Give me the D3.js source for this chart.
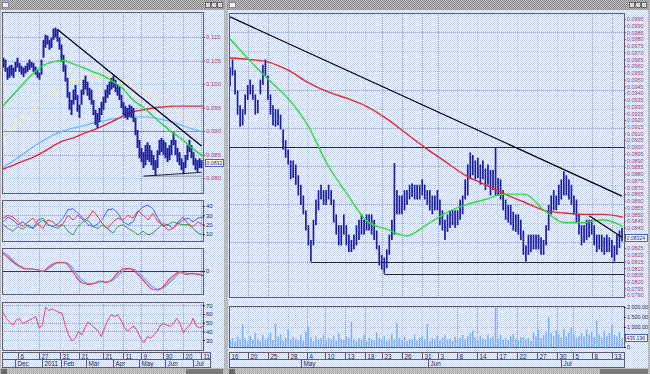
<!DOCTYPE html>
<html>
<head>
<meta charset="utf-8">
<script src="https://cdn.jsdelivr.net/npm/d3@7"></script>
<style>
  body { margin: 0; background: #bdbdbd; overflow: hidden; }
  svg { display: block; }
  text { font-family: 'Liberation Sans', Arial, sans-serif; }
  .grid { stroke: #9db2de; stroke-width: 1; stroke-dasharray: 1 1; }
</style>
</head>
<body>
<svg id="chart" width="650" height="374"></svg>
<script>
// ---------- left window: daily bars ----------
var leftHigh = [.1056,.1052,.1035,.1039,.1041,.1035,.1047,.1056,.1045,.1039,
  .1035,.1039,.1045,.1052,.1047,.1045,.1037,.1030,.1024,.1052,
  .1094,.1105,.1103,.1094,.1099,.1118,.1120,.1116,.1099,.1084,
  .1062,.1041,.1013,.0983,.0966,.0988,.0998,.0977,.0956,.0988,
  .1009,.1018,.1005,.0992,.0988,.0966,.0945,.0938,.0949,.0962,
  .0973,.0988,.0998,.1005,.1013,.1018,.1009,.1000,.0994,.0977,
  .0962,.0953,.0949,.0956,.0953,.0949,.0928,.0902,.0881,.0864,
  .0855,.0870,.0876,.0870,.0859,.0849,.0838,.0859,.0881,.0885,
  .0881,.0876,.0864,.0870,.0881,.0898,.0881,.0864,.0855,.0842,
  .0834,.0849,.0870,.0881,.0870,.0855,.0842,.0838,.0842,.0838];
var leftLow = [.1035,.1026,.1009,.1013,.1018,.1013,.1026,.1035,.1026,.1020,
  .1015,.1022,.1026,.1030,.1035,.1026,.1020,.1013,.1009,.1020,
  .1056,.1077,.1084,.1073,.1077,.1094,.1099,.1090,.1073,.1047,
  .1026,.1005,.0971,.0945,.0934,.0956,.0966,.0941,.0928,.0956,
  .0977,.0988,.0975,.0966,.0956,.0934,.0913,.0906,.0919,.0934,
  .0945,.0960,.0970,.0977,.0988,.0992,.0983,.0975,.0966,.0949,
  .0934,.0928,.0924,.0930,.0928,.0919,.0891,.0864,.0842,.0834,
  .0821,.0827,.0838,.0834,.0827,.0817,.0804,.0821,.0849,.0855,
  .0849,.0842,.0834,.0838,.0849,.0870,.0849,.0834,.0827,.0817,
  .0808,.0821,.0838,.0855,.0842,.0827,.0817,.0812,.0821,.0821];
var leftGreenMA = [.0953,.0977,.1000,.1022,.1039,.1047,.1050,.1043,.1035,.1026,.1018,.1005,.0990,.0966,.0951,.0932,.0913,.0896,.0881,.0862,.0847];
var leftYellowMA = [.0881,.0906,.0928,.0945,.0964,.0983,.0996,.1005,.1011,.1015,.1018,.1013,.1007,.0996,.0985,.0975,.0964,.0949,.0934,.0921,.0904];
var leftBlueMA = [.0823,.0836,.0851,.0866,.0879,.0891,.0900,.0906,.0911,.0917,.0921,.0926,.0928,.0930,.0930,.0928,.0924,.0919,.0911,.0904,.0898];
var leftRedMA = [.0819,.0827,.0836,.0844,.0855,.0868,.0879,.0885,.0894,.0902,.0911,.0921,.0932,.0941,.0945,.0949,.0951,.0953,.0953,.0953,.0953];
var leftTrend = [[27, 0.1116], [99, 0.0868]];
var leftSupport = [[70, 0.0804], [99, 0.0812]];
var leftFloor = [[70, 0.0804], [99, 0.0804]];
var leftPriceTicks = [0.080, 0.085, 0.090, 0.095, 0.100, 0.105, 0.110];
var leftLast = '0.0832';

var dmiBlue = [23,28,25,20,23,18,16,21,25,20,18,21,27,36,37,32,27,20,18,21,27,36,37,32,23,20,23,34,39,41,37,27,18,20,16,21,25,27,23,27,28];
var dmiRed = [27,30,28,23,18,23,27,20,16,25,23,18,21,30,25,30,25,27,35,28,20,16,23,27,25,30,27,35,30,25,32,23,20,14,16,23,28,21,18,23,20];
var dmiGreen = [20,16,13,18,15,20,16,25,27,20,18,16,20,13,9,18,23,25,18,16,20,15,11,18,20,16,13,9,13,9,11,16,21,20,23,21,20,20,16,11,9];
var dmiTicks = [10, 20, 30, 40];

var macdRed = [1.77,1.27,0.77,0.43,0.2,0.2,0.1,-0.07,0.43,0.77,0.87,0.77,0.1,-0.73,-1.23,-1.33,-1.23,-1.0,-1.13,-0.9,-0.23,0.2,0.27,0,-0.57,-1.23,-1.8,-1.9,-1.57,-0.9,-0.4,-0.07,-0.33,-0.23,-0.33,-0.47];
var macdBlue = [1.9,1.5,0.9,0.5,0.25,0.2,0.15,0,0.25,0.65,0.85,0.85,0.4,-0.4,-1.0,-1.25,-1.25,-1.1,-1.1,-1.0,-0.5,0,0.2,0.15,-0.3,-0.9,-1.5,-1.8,-1.7,-1.2,-0.7,-0.2,-0.2,-0.3,-0.25,-0.35];
var macdTicks = [0];

var rsiLine = [62,55,51,47,53,55,49,51,53,55,57,44,47,68,64,66,64,62,61,47,36,29,32,40,36,44,51,47,44,40,34,44,53,59,57,59,53,45,40,44,46,40,32,27,34,32,36,40,47,49,47,46,49,55,49,38,44,47,55,46,44,46];
var rsiTicks = [30, 40, 50, 60, 70];

var leftDayTicks = [7, 17.5, 28, 37.5, 49.5, 59.5, 68.5, 79.5, 89.5, 98.5];
var leftDayLabels = ['6', '27', '31', '21', '21', '11', '9', '30', '20', '11'];
var leftMonthTicks = [5.5, 19, 28.5, 41, 54.5, 68, 80.5, 94.5];
var leftMonthLabels = ['Dec', '2011', 'Feb', 'Mar', 'Apr', 'May', 'Jun', 'Jul'];

// ---------- right window: intraday bars ----------
var rightHigh = [.0959,.0965,.0957,.0942,.0931,.0928,.0939,.0946,.0950,.0946,
  .0939,.0935,.0950,.0961,.0965,.0953,.0939,.0931,.0928,.0928,
  .0924,.0913,.0905,.0898,.0890,.0890,.0887,.0879,.0872,.0864,
  .0853,.0842,.0831,.0846,.0861,.0868,.0872,.0868,.0868,.0872,
  .0868,.0861,.0850,.0842,.0842,.0850,.0842,.0835,.0831,.0835,
  .0842,.0846,.0850,.0846,.0850,.0850,.0850,.0846,.0838,.0827,
  .0820,.0818,.0824,.0835,.0846,.0888,.0868,.0864,.0864,.0868,
  .0868,.0872,.0873,.0872,.0872,.0872,.0876,.0872,.0868,.0868,
  .0864,.0864,.0868,.0861,.0853,.0846,.0850,.0853,.0853,.0853,
  .0853,.0861,.0864,.0876,.0887,.0896,.0894,.0890,.0892,.0887,
  .0890,.0884,.0887,.0883,.0883,.0900,.0877,.0876,.0868,.0861,
  .0857,.0857,.0852,.0850,.0850,.0846,.0838,.0827,.0835,.0835,
  .0835,.0835,.0835,.0833,.0831,.0842,.0857,.0864,.0868,.0864,
  .0872,.0876,.0882,.0879,.0876,.0872,.0864,.0861,.0850,.0842,
  .0842,.0846,.0846,.0846,.0842,.0835,.0835,.0835,.0833,.0835,
  .0833,.0831,.0827,.0835,.0838,.0840];
var rightLow = [.0945,.0953,.0939,.0924,.0915,.0916,.0924,.0935,.0939,.0935,
  .0924,.0925,.0939,.0946,.0953,.0935,.0924,.0916,.0915,.0916,
  .0913,.0898,.0892,.0887,.0876,.0877,.0872,.0864,.0857,.0850,
  .0838,.0827,.0815,.0827,.0842,.0853,.0861,.0857,.0857,.0861,
  .0857,.0844,.0835,.0827,.0827,.0835,.0827,.0822,.0822,.0824,
  .0827,.0831,.0835,.0835,.0838,.0838,.0835,.0831,.0824,.0812,
  .0809,.0806,.0810,.0820,.0831,.0835,.0850,.0850,.0850,.0853,
  .0857,.0861,.0863,.0861,.0861,.0861,.0864,.0861,.0857,.0853,
  .0850,.0853,.0853,.0842,.0838,.0831,.0837,.0840,.0842,.0840,
  .0842,.0846,.0850,.0861,.0864,.0876,.0879,.0876,.0877,.0872,
  .0876,.0868,.0872,.0864,.0868,.0864,.0864,.0861,.0853,.0846,
  .0844,.0842,.0838,.0837,.0835,.0831,.0820,.0815,.0820,.0822,
  .0824,.0824,.0824,.0820,.0820,.0827,.0838,.0850,.0853,.0853,
  .0857,.0861,.0864,.0864,.0861,.0857,.0850,.0844,.0835,.0827,
  .0829,.0831,.0833,.0835,.0827,.0822,.0824,.0822,.0820,.0822,
  .0822,.0818,.0815,.0820,.0825,.0830];
var rightRedMA = [.0966,.0965,.0963,.0957,.0948,.0941,.0936,.0930,.0921,.0910,.0899,.0889,.0879,.0872,.0865,.0859,.0853,.0851,.0850,.0850,.0848];
var rightGreenMA = [.0981,.0965,.0950,.0936,.0916,.0887,.0865,.0845,.0839,.0834,.0842,.0851,.0857,.0861,.0865,.0865,.0853,.0844,.0844,.0846,.0841];
var rightTrend = [[0, 0.09965], [155, 0.08636]];
var rightTrendShort = [[142, 0.0849], [155, 0.0833]];
var rightLevels = [[0, 155, 0.0900], [32, 155, 0.0815], [61, 155, 0.0806]];
// 0.0830 and 0.0835 sit under the last-price box, so they are not shown
var rightPriceTicks = [0.0790,0.0795,0.0800,0.0805,0.0810,0.0815,0.0820,0.0825,
  0.0840,0.0845,0.0850,0.0855,0.0860,0.0865,0.0870,0.0875,0.0880,0.0885,
  0.0890,0.0895,0.0900,0.0905,0.0910,0.0915,0.0920,0.0925,0.0930,0.0935,
  0.0940,0.0945,0.0950,0.0955,0.0960,0.0965,0.0970,0.0975,0.0980,0.0985,
  0.0990,0.0995];
var rightLast = '0.08324';

var volume = [320,450,280,520,380,1150,420,300,560,350,680,410,290,
  610,380,470,720,350,1180,520,640,300,450,880,390,510,
  420,350,600,330,760,1020,480,290,540,380,450,620,310,
  470,390,560,300,680,420,350,520,460,1280,380,290,430,
  360,610,280,470,400,330,720,450,380,560,300,420,640,
  380,1200,460,350,510,290,420,380,620,340,460,530,390,
  1150,300,440,380,560,320,470,600,350,420,300,510,380,
  460,620,390,540,700,820,480,350,560,420,380,610,450,
  530,1980,420,600,380,470,350,560,640,420,330,480,520,
  380,460,300,720,540,880,450,620,780,1480,700,560,820,
  640,480,900,560,700,1000,620,480,560,700,540,880,620,
  760,500,1300,620,480,820,560,700,1100,620,540,760,440];
var volumeTicks = [0, 1000, 1500, 2000];
var volumeLast = '436.196';

var rightDayTicks = [-0.3, 7.1, 15, 22.9, 30.4, 37.6, 45.5, 53.4, 60.1, 68, 75.9, 82.2, 89.7, 97.6, 105.5, 113.5, 121.4, 129.3, 135.6, 143.1, 151];
var rightDayLabels = ['16','20','25','28','4','10','13','18','23','26','31','3','8','14','17','22','27','30','5','8','13'];
var rightMonthTicks = [28.1, 78.3, 130.9];
var rightMonthLabels = ['May', 'Jun', 'Jul'];

// colours
var barBlue = '#1c209c', frameLine = '#5c5c72', priceLabel = '#a83c5a', darkText = '#26263a';

var svg = d3.select('#chart');
var defs = svg.append('defs');

// dithered fills, like the old 256 colour screen
function checker(id, a, b) {
  var p = defs.append('pattern').attr('id', id).attr('width', 2).attr('height', 2)
    .attr('patternUnits', 'userSpaceOnUse');
  p.append('rect').attr('width', 2).attr('height', 2).attr('fill', a);
  p.append('rect').attr('width', 1).attr('height', 1).attr('fill', b);
  p.append('rect').attr('x', 1).attr('y', 1).attr('width', 1).attr('height', 1).attr('fill', b);
}
checker('paper', '#ffffff', '#c6d1f0');
checker('frame', '#cdcdcd', '#a6a6a6');
checker('title', '#bcbcbc', '#8a8a8a');

svg.append('rect').attr('width', 650).attr('height', 374).attr('fill', 'url(#frame)');

// window chrome
[[0, 225], [227, 649]].forEach(function (w) {
  svg.append('rect').attr('x', w[0]).attr('y', 0).attr('width', w[1] - w[0]).attr('height', 10).attr('fill', 'url(#title)');
  svg.append('rect').attr('x', w[0] + 1).attr('y', 10).attr('width', w[1] - w[0] - 2).attr('height', 358).attr('fill', 'url(#paper)');
  svg.append('rect').attr('x', w[0] + 2.5).attr('y', 2.5).attr('width', 6).attr('height', 5)
    .attr('fill', '#f2f2f8').attr('stroke', '#7a6a90').attr('stroke-width', 0.7);
  [19, 13, 7].forEach(function (off) {
    svg.append('rect').attr('x', w[1] - off - 0.5).attr('y', 2.5).attr('width', 5).attr('height', 5)
      .attr('fill', '#d6d6d6').attr('stroke', '#3a3a3a').attr('stroke-width', 0.6);
  });
});
svg.append('rect').attr('x', 1).attr('y', 369).attr('width', 6).attr('height', 5).attr('fill', '#6a6a6a');
svg.append('rect').attr('x', 229).attr('y', 369).attr('width', 6).attr('height', 5).attr('fill', '#6a6a6a');
svg.append('rect').attr('x', 186).attr('y', 369).attr('width', 37).attr('height', 5).attr('fill', '#7a7a7a');
svg.append('rect').attr('x', 600).attr('y', 369).attr('width', 48).attr('height', 5).attr('fill', '#7a7a7a');

// panel with clip and border
var panelCount = 0;
function panel(x0, y0, x1, y1) {
  var id = 'clip' + (panelCount++);
  defs.append('clipPath').attr('id', id).append('rect')
    .attr('x', x0 + 1).attr('y', y0 + 1).attr('width', x1 - x0 - 1).attr('height', y1 - y0 - 1);
  var g = svg.append('g').attr('clip-path', 'url(#' + id + ')');
  svg.append('rect').attr('x', x0 + 0.5).attr('y', y0 + 0.5).attr('width', x1 - x0).attr('height', y1 - y0)
    .attr('fill', 'none').attr('stroke', frameLine);
  return g;
}

function gridLines(g, xs, ys, x0, x1, y0, y1) {
  xs.forEach(function (x) {
    x = Math.round(x) + 0.5;
    g.append('line').attr('class', 'grid').attr('x1', x).attr('x2', x).attr('y1', y0).attr('y2', y1);
  });
  ys.forEach(function (y) {
    y = Math.round(y) + 0.5;
    g.append('line').attr('class', 'grid').attr('x1', x0).attr('x2', x1).attr('y1', y).attr('y2', y);
  });
}

function drawBars(g, x, y, highs, lows, w) {
  g.selectAll(null).data(highs).enter().append('rect')
    .attr('x', function (d, i) { return x(i) - w / 2; })
    .attr('y', function (d) { return y(d); })
    .attr('width', w)
    .attr('height', function (d, i) { return Math.max(1, y(lows[i]) - y(d)); })
    .attr('fill', barBlue);
}

function drawLine(g, data, x, y, color, width, curve) {
  var line = d3.line()
    .x(function (d, i) { return x(i); })
    .y(function (d) { return y(d); });
  if (curve) line.curve(curve);
  g.append('path').datum(data).attr('d', line)
    .attr('fill', 'none').attr('stroke', color).attr('stroke-width', width).attr('stroke-linejoin', 'round');
}

function drawSegment(g, pts, x, y, color, width) {
  g.append('line')
    .attr('x1', x(pts[0][0])).attr('y1', y(pts[0][1]))
    .attr('x2', x(pts[1][0])).attr('y2', y(pts[1][1]))
    .attr('stroke', color).attr('stroke-width', width);
}

function valueAxis(xPos, y, ticks, fmt, color, size) {
  var ax = svg.append('g').attr('transform', 'translate(' + xPos + ',0)')
    .call(d3.axisRight(y).tickValues(ticks).tickFormat(fmt).tickSize(2).tickPadding(1));
  ax.select('.domain').remove();
  ax.selectAll('line').attr('stroke', color);
  ax.selectAll('text').attr('fill', color).attr('font-size', size).attr('font-family', "'Liberation Sans', Arial, sans-serif");
  return ax;
}

function lastBox(x0, w, yc, label, size) {
  svg.append('rect').attr('x', x0 + 0.5).attr('y', Math.round(yc) - 3.5).attr('width', w).attr('height', 7)
    .attr('fill', '#f4f6ff').attr('stroke', '#2040c0').attr('stroke-width', 0.8);
  svg.append('text').attr('x', x0 + 1.5).attr('y', Math.round(yc) + 2.2).attr('font-size', size)
    .attr('fill', '#1a2a9a').text(label);
}

function dateRows(x, x0, x1, dayT, dayL, monT, monL) {
  var g = svg.append('g');
  g.append('rect').attr('x', x0 + 0.5).attr('y', 352.5).attr('width', x1 - x0).attr('height', 7)
    .attr('fill', 'none').attr('stroke', frameLine);
  g.append('rect').attr('x', x0 + 0.5).attr('y', 359.5).attr('width', x1 - x0).attr('height', 8)
    .attr('fill', 'none').attr('stroke', frameLine);
  dayT.forEach(function (t, i) {
    var xx = Math.round(Math.max(x0, x(t))) + 0.5;
    g.append('line').attr('x1', xx).attr('x2', xx).attr('y1', 352.5).attr('y2', 359.5).attr('stroke', frameLine);
    g.append('text').attr('x', xx + 2).attr('y', 358.6).attr('font-size', 6.3).attr('fill', darkText).text(dayL[i]);
  });
  monT.forEach(function (t, i) {
    var xx = Math.round(x(t)) + 0.5;
    g.append('line').attr('x1', xx).attr('x2', xx).attr('y1', 359.5).attr('y2', 367.5).attr('stroke', frameLine);
    g.append('text').attr('x', xx + 2).attr('y', 366.2).attr('font-size', 6.3).attr('fill', darkText).text(monL[i]);
  });
}

// ================= LEFT WINDOW =================
var xL = d3.scaleLinear().domain([0, leftHigh.length - 1]).range([3.5, 201.5]);
var xLma = d3.scaleLinear().domain([0, leftGreenMA.length - 1]).range([3, 203]);
var yL = d3.scaleLinear().domain([0.07681, 0.11532]).range([193, 12]);
var dayXL = leftDayTicks.map(function (t) { return xL(t); });

var gL = panel(2, 12, 203, 193);
gridLines(gL, dayXL, leftPriceTicks.map(yL), 2, 203, 12, 193);
gL.append('line').attr('x1', 2).attr('x2', 203).attr('y1', Math.round(yL(0.090)) + 0.5).attr('y2', Math.round(yL(0.090)) + 0.5)
  .attr('stroke', '#8a8a96').attr('stroke-width', 1);
drawLine(gL, leftYellowMA, xLma, yL, '#f2ee7a', 1, d3.curveMonotoneX);
drawLine(gL, leftBlueMA, xLma, yL, '#78b8f2', 1.4, d3.curveMonotoneX);
drawLine(gL, leftRedMA, xLma, yL, '#e8262a', 1.4, d3.curveMonotoneX);
drawBars(gL, xL, yL, leftHigh, leftLow, 2);
drawLine(gL, leftGreenMA, xLma, yL, '#22e02a', 1.4, d3.curveMonotoneX);
drawSegment(gL, leftTrend, xL, yL, '#000000', 1.3);
drawSegment(gL, leftFloor, xL, yL, '#8a8a96', 1);
drawSegment(gL, leftSupport, xL, yL, '#202020', 1);
valueAxis(203, yL, leftPriceTicks, d3.format('.3f'), priceLabel, 6);
lastBox(205, 18, yL(0.0832), leftLast, 5.2);

// DMI panel
var xI1 = d3.scaleLinear().domain([0, dmiBlue.length - 1]).range([3, 203]);
var yDmi = d3.scaleLinear().domain([2.5, 46.4]).range([241, 200]);
var g1 = panel(2, 200, 203, 241);
gridLines(g1, dayXL, dmiTicks.map(yDmi), 2, 203, 200, 241);
drawLine(g1, dmiGreen, xI1, yDmi, '#3c9a3c', 1);
drawLine(g1, dmiBlue, xI1, yDmi, '#4a5ef0', 1);
drawLine(g1, dmiRed, xI1, yDmi, '#f03c44', 1);
valueAxis(203, yDmi, dmiTicks, d3.format('d'), darkText, 6);

// MACD panel
var xI2 = d3.scaleLinear().domain([0, macdRed.length - 1]).range([3, 203]);
var yMacd = d3.scaleLinear().domain([-2.3, 2.3]).range([294, 248]);
var g2 = panel(2, 248, 203, 294);
gridLines(g2, dayXL, [], 2, 203, 248, 294);
g2.append('line').attr('x1', 2).attr('x2', 203).attr('y1', Math.round(yMacd(0)) + 0.5).attr('y2', Math.round(yMacd(0)) + 0.5)
  .attr('stroke', '#3a3a4a');
drawLine(g2, macdBlue, xI2, yMacd, '#64a8f0', 1.2, d3.curveMonotoneX);
drawLine(g2, macdRed, xI2, yMacd, '#f0404c', 1.2, d3.curveMonotoneX);
valueAxis(203, yMacd, macdTicks, d3.format('d'), darkText, 6);

// RSI panel
var xI3 = d3.scaleLinear().domain([0, rsiLine.length - 1]).range([3, 203]);
var yRsi = d3.scaleLinear().domain([18.6, 73.8]).range([350, 302]);
var g3 = panel(2, 302, 203, 350);
gridLines(g3, dayXL, rsiTicks.map(yRsi), 2, 203, 302, 350);
drawLine(g3, rsiLine, xI3, yRsi, '#f0405a', 1);
valueAxis(203, yRsi, rsiTicks, d3.format('d'), darkText, 6);

dateRows(xL, 2, 210, leftDayTicks, leftDayLabels, leftMonthTicks, leftMonthLabels);

// ================= RIGHT WINDOW =================
var xR = d3.scaleLinear().domain([0, rightHigh.length - 1]).range([230, 622]);
var xRma = d3.scaleLinear().domain([0, rightRedMA.length - 1]).range([229, 623]);
var yR = d3.scaleLinear().domain([0.07887, 0.09994]).range([297, 13]);
var dayXR = rightDayTicks.map(function (t) { return xR(t); });
var rightGridPx = 19.1;
var gridYR = d3.range(-7, 8).map(function (k) { return yR(0.09) + k * rightGridPx; });

var gR = panel(229, 13, 624, 297);
gridLines(gR, dayXR, gridYR, 229, 624, 13, 297);
rightLevels.forEach(function (lv) {
  var yy = Math.round(yR(lv[2])) + 0.5;
  gR.append('line').attr('x1', xR(lv[0])).attr('x2', 624).attr('y1', yy).attr('y2', yy)
    .attr('stroke', '#2a2a36').attr('stroke-width', 1);
});
drawBars(gR, xR, yR, rightHigh, rightLow, 1.7);
drawLine(gR, rightRedMA, xRma, yR, '#ec2424', 1.4, d3.curveMonotoneX);
drawLine(gR, rightGreenMA, xRma, yR, '#26e42a', 1.4, d3.curveMonotoneX);
drawSegment(gR, rightTrend, xR, yR, '#000000', 1.3);
drawSegment(gR, rightTrendShort, xR, yR, '#000000', 1.2);
valueAxis(624, yR, rightPriceTicks, d3.format('.4f'), priceLabel, 5.4);
lastBox(625, 22, yR(0.08324), rightLast, 5.2);

// volume panel
var yVol = d3.scaleLinear().domain([0, 2000]).range([347, 307]);
var gV = panel(229, 306, 624, 347);
gridLines(gV, dayXR, [yVol(1000), yVol(2000)], 229, 624, 306, 347);
gV.selectAll(null).data(volume).enter().append('rect')
  .attr('x', function (d, i) { return xR(i) - 0.8; })
  .attr('y', function (d) { return yVol(d); })
  .attr('width', 1.6)
  .attr('height', function (d) { return yVol(0) - yVol(d); })
  .attr('fill', '#82b2ec');
valueAxis(624, yVol, volumeTicks, function (d) { return d === 0 ? '0' : d3.format(',.2f')(d).replace(',', ' '); }, darkText, 5.4);
lastBox(625, 22, yVol(436), volumeLast, 5.2);

dateRows(xR, 229, 624, rightDayTicks, rightDayLabels, rightMonthTicks, rightMonthLabels);
</script>
</body>
</html>
